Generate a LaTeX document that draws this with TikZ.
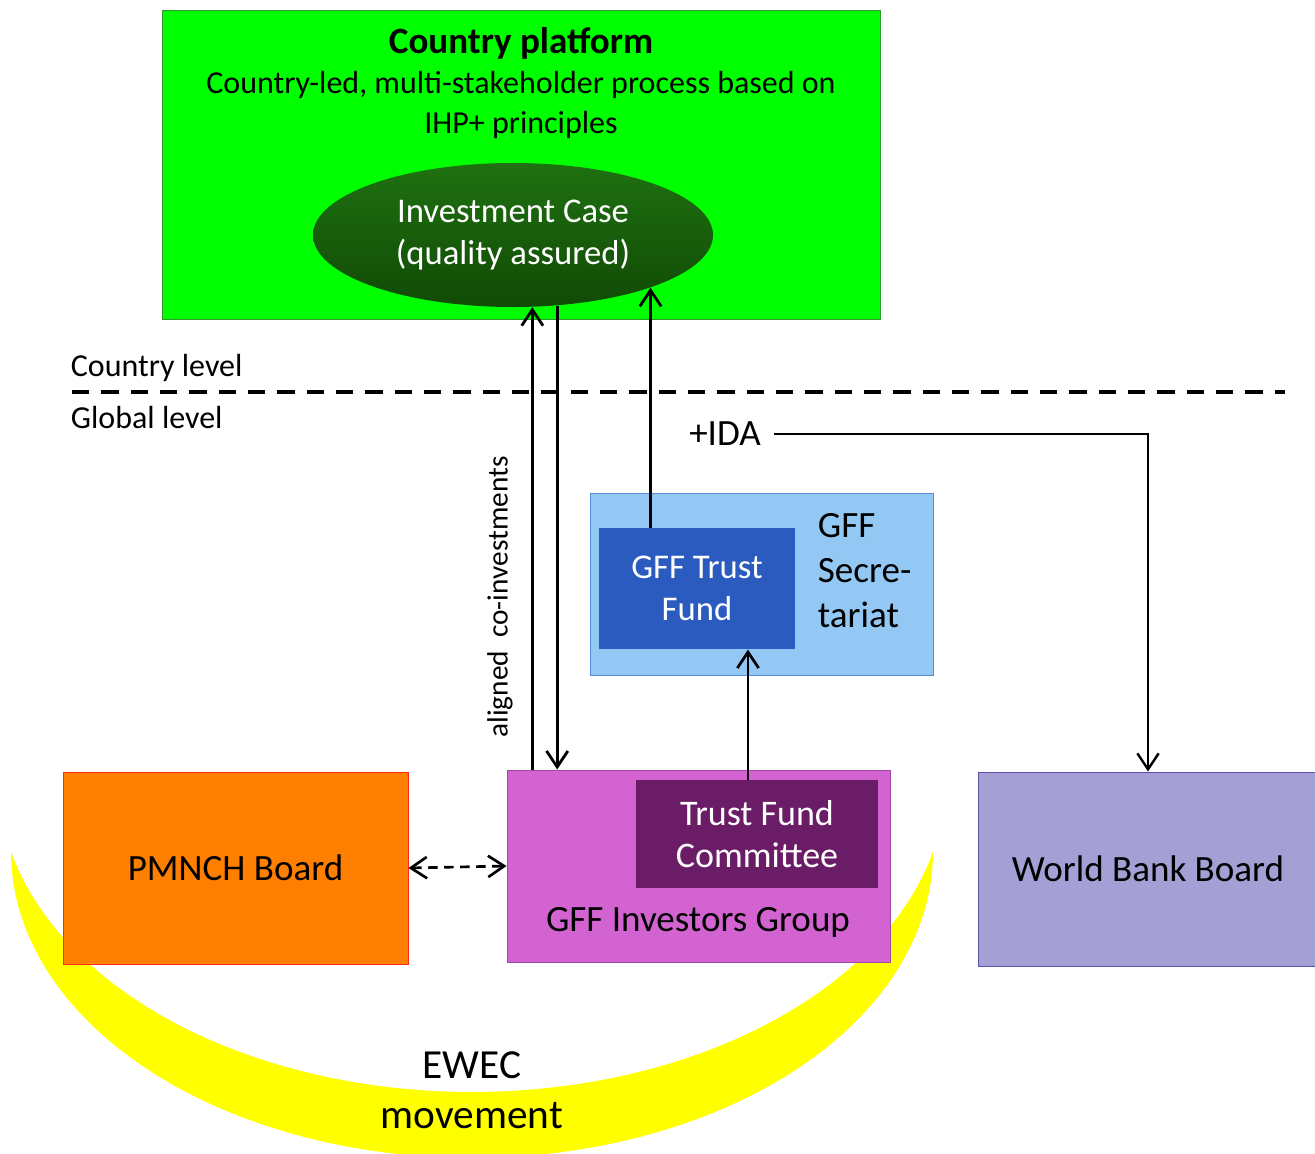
\documentclass[tikz,border=0pt]{standalone}
\usepackage{fontspec}
\setmainfont{Carlito}
\usetikzlibrary{arrows.meta,shapes.geometric}

\definecolor{platgreen}{HTML}{00FF00}
\definecolor{platedge}{HTML}{2E9A2E}
\definecolor{casetop}{HTML}{1F7111}
\definecolor{casebottom}{HTML}{114A05}
\definecolor{secfill}{HTML}{93C8F4}
\definecolor{secedge}{HTML}{5A8BDA}
\definecolor{fundfill}{HTML}{2B5BBE}
\definecolor{invfill}{HTML}{D463D2}
\definecolor{invedge}{HTML}{A046A6}
\definecolor{tfcfill}{HTML}{6B1C66}
\definecolor{pmnchfill}{HTML}{FF8000}
\definecolor{pmnchedge}{HTML}{FF2A1A}
\definecolor{wbfill}{HTML}{A49FD4}
\definecolor{wbedge}{HTML}{5E50A8}
\definecolor{ewecyellow}{HTML}{FFFF00}

\newcommand{\boxfont}{\fontsize{27.8}{31.5}\selectfont}
\newcommand{\smallboxfont}{\fontsize{26}{31.5}\selectfont}

\tikzset{
  box/.style={rectangle, inner sep=0pt, align=center, font=\boxfont, line width=0.75pt},
  flow/.style={->, line width=2.1pt},
  lbl/.style={font=\boxfont, align=center, inner sep=2pt}
}

\begin{document}
\begin{tikzpicture}[x=0.75pt, y=-0.75pt, >={Straight Barb[length=12pt,width=16pt]}]
	\useasboundingbox (0,0) rectangle (1315,1154);

	% EWEC crescent behind the boards
	\fill[ewecyellow] plot[domain=180:0, samples=90] ({472+461*cos(\x)}, {852+306*sin(\x)})
		-- plot[domain=13.3:166.7, samples=90] ({472+473.7*cos(\x)}, {780+312*sin(\x)}) -- cycle;

	% country level
	\node[box, draw=platedge, fill=platgreen, minimum width=538.5pt, minimum height=231.75pt] (platform) at (521,164.5) {};
	\node[lbl, font=\fontsize{24}{30}\selectfont] (platlabel) at (521,83) {{\fontsize{27.8}{30}\selectfont\bfseries Country platform}\\Country-led, multi-stakeholder process based on\\IHP+ principles};
	\node[box, ellipse, top color=casetop, bottom color=casebottom, text=white, font=\smallboxfont, minimum width=300pt, minimum height=108pt] (case) at (513,235) {Investment Case\\(quality assured)};

	\coordinate (lvlL) at (72,392);
	\coordinate (lvlR) at (1285,392);
	\draw[line width=3pt, dash pattern=on 13pt off 9pt] (lvlL) -- (lvlR);
	\node[lbl, anchor=west, font=\fontsize{24}{28}\selectfont] (countrylvl) at (68,368) {Country level};
	\node[lbl, anchor=west, font=\fontsize{24}{28}\selectfont] (globallvl) at (68,418) {Global level};

	% global level
	\node[box, draw=secedge, fill=secfill, minimum width=257.25pt, minimum height=136.5pt] (secretariat) at (761.5,584) {};
	\node[lbl, anchor=west, align=left, font=\fontsize{27.8}{33.75}\selectfont] (seclabel) at (815,571) {GFF\\Secre-\\tariat};
	\node[box, fill=fundfill, text=white, font=\smallboxfont, minimum width=147pt, minimum height=90.75pt] (fund) at (697,588.5) {GFF Trust\\Fund};

	\node[box, draw=invedge, fill=invfill, minimum width=287.25pt, minimum height=144pt] (investors) at (698.5,866) {};
	\node[lbl] (invlabel) at (698,922) {GFF Investors Group};
	\node[box, fill=tfcfill, text=white, font=\fontsize{27}{32}\selectfont, minimum width=181.5pt, minimum height=81pt] (committee) at (757,834) {Trust Fund\\Committee};

	\node[box, draw=pmnchedge, fill=pmnchfill, minimum width=258.75pt, minimum height=144pt] (pmnch) at (235.5,868) {PMNCH Board};
	\node[box, draw=wbedge, fill=wbfill, minimum width=254pt, minimum height=145.5pt] (wbank) at (1148,869) {World Bank Board};

	\node[lbl] (ida) at (725,434) {+IDA};
	\node[lbl, rotate=90, font=\fontsize{22}{26}\selectfont] (cofin) at (500,597) {aligned\ \ co-investments};

	\node[lbl, font=\fontsize{31}{37.5}\selectfont] (ewec) at (472,1090) {EWEC\\movement};

	% flows
	\coordinate (tfc) at (748,780);
	\draw[flow] (case.-75.2 |- investors.north) -- (case.-75.2);
	\draw[flow] (case.-58.5) -- (case.-58.5 |- investors.north);
	\draw[flow] (case.-21.4 |- fund.north) -- (case.-21.4);
	\draw[flow] (tfc) -- (tfc |- fund.south);
	\draw[flow, line width=1.8pt] ([xshift=8pt]ida.east) -| (wbank.north);
	\draw[<->, line width=2pt, dash pattern=on 7pt off 5pt] (pmnch.east) -- (investors.west);
\end{tikzpicture}
\end{document}
